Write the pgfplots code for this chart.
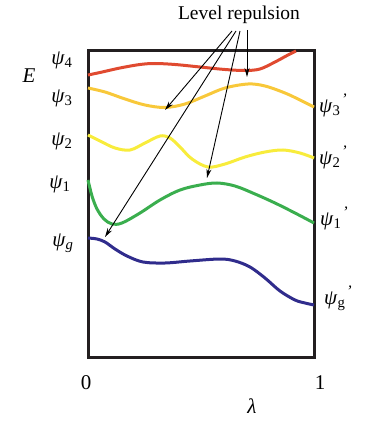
\documentclass[border=0pt]{standalone}
\usepackage{fontspec}
\setmainfont{Liberation Serif}
\usepackage{pgfplots}
\pgfplotsset{compat=1.18}
\usetikzlibrary{arrows.meta}
\definecolor{cred}{HTML}{E04A30}
\definecolor{corange}{HTML}{F8C83A}
\definecolor{cyellow}{HTML}{F8EC3C}
\definecolor{cgreen}{HTML}{3AAE4E}
\definecolor{cblue}{HTML}{302C8C}
\definecolor{cframe}{HTML}{231F20}
\newcommand{\psil}[1]{\textit{ψ}\textsubscript{#1}}
\newcommand{\psir}[1]{\textit{ψ}\textsubscript{#1}\hspace{1pt}\raisebox{8pt}{\fontsize{16}{16}\selectfont\textit{’}}}
\tikzset{lbl/.style={font=\fontsize{21}{24}\selectfont, inner sep=0pt}}
\begin{document}
\begin{tikzpicture}[x=1pt,y=1pt]
\path[use as bounding box] (0,0) rectangle (368,422);
\begin{axis}[
  at={(88pt,65pt)}, anchor=south west,
  scale only axis, width=226pt, height=306pt,
  xmin=88, xmax=314, ymin=51, ymax=357, y dir=reverse,
  xtick=\empty, ytick=\empty,
  axis line style={line width=3pt, cframe},
  clip=false,
  every axis plot/.append style={line width=3pt, smooth, tension=0.55, no marks},
]
% psi_4
\addplot[cred] coordinates {(88,75) (100,72.5) (120,68) (140,64.5) (155,63.5) (175,64.5) (200,67) (225,69.5) (245,70.5) (260,69) (275,62) (288,55) (296,51)};
% psi_3
\addplot[corange] coordinates {(88,88) (105,92) (125,99) (145,105) (165,107.5) (185,104) (205,96) (225,88) (248,84) (265,86) (285,93) (300,100) (314,107)};
% psi_2
\addplot[cyellow] coordinates {(88,135) (100,141) (115,148) (130,150) (145,143) (160,136) (170,138) (180,147) (192,159) (208,167) (225,164) (245,157) (265,152) (283,150) (300,153) (314,158)};
% psi_1
\addplot[cgreen] coordinates {(88,180) (92,196) (97,209) (104,219) (112,224) (122,223) (140,213) (160,200) (180,190) (200,185) (217,183) (235,186) (255,194) (275,203) (295,213) (314,223)};
% psi_g
\addplot[cblue] coordinates {(88,238) (97,239) (105,242) (115,249) (127,256) (143,262) (165,263) (190,261) (220,259) (235,261) (250,267) (265,278) (280,291) (295,300) (305,303) (314,305)};
% arrows
\draw[-{Stealth[length=9pt,width=5pt]}, line width=0.9pt] (axis cs:232,31) -- (axis cs:165,110);
\draw[-{Stealth[length=9pt,width=5pt]}, line width=0.9pt] (axis cs:236,31) -- (axis cs:105,237);
\draw[-{Stealth[length=9pt,width=5pt]}, line width=0.9pt] (axis cs:240,31) -- (axis cs:207,178);
\draw[-{Stealth[length=9pt,width=5pt]}, line width=0.9pt] (axis cs:247,30) -- (axis cs:247,77);
\node[lbl, font=\fontsize{19.5}{22}\selectfont] at (axis cs:239,15) {Level repulsion};
% labels
\node[lbl] at (axis cs:29,76) {\textit{E}};
\node[lbl] at (axis cs:62,60) {\psil{4}};
\node[lbl] at (axis cs:62,98) {\psil{3}};
\node[lbl] at (axis cs:62,141) {\psil{2}};
\node[lbl] at (axis cs:60,184) {\psil{1}};
\node[lbl] at (axis cs:63,243) {\psil{\textit{g}}};
\node[lbl] at (axis cs:333,105) {\psir{3}};
\node[lbl] at (axis cs:333,157) {\psir{2}};
\node[lbl] at (axis cs:334,218) {\psir{1}};
\node[lbl] at (axis cs:338,298) {\psir{g}};
\node[lbl] at (axis cs:86,383) {0};
\node[lbl] at (axis cs:320,383) {1};
\node[lbl] at (axis cs:252,406) {\textit{λ}};
\end{axis}
\end{tikzpicture}
\end{document}
